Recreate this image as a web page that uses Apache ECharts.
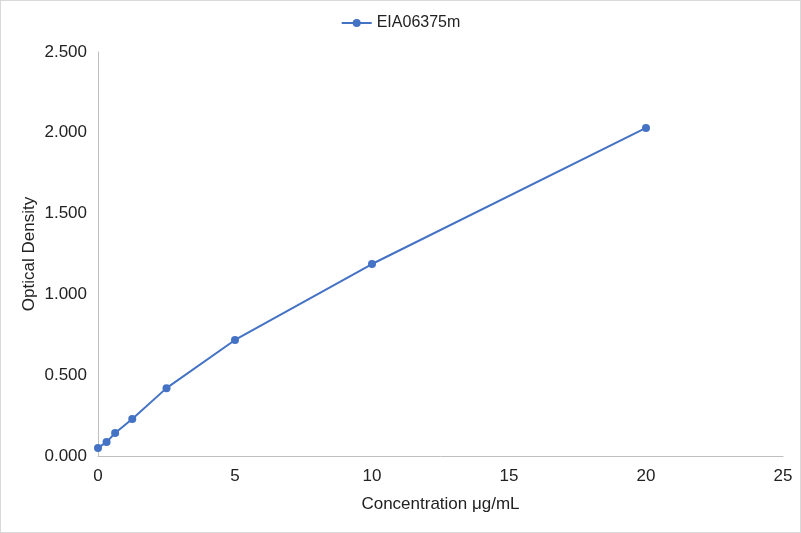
<!DOCTYPE html>
<html>
<head>
<meta charset="utf-8">
<script src="https://cdn.jsdelivr.net/npm/echarts@6/dist/echarts.min.js"></script>
<style>
  html, body { margin: 0; padding: 0; background: #fff; }
  #chart { width: 801px; height: 533px; box-sizing: border-box; border: 1px solid #d9d9d9; }
</style>
</head>
<body>
<div id="chart"></div>
<script>
// 浓度 (x) 与 OD 值 (y)
const seriesName = 'EIA06375m';
const concentration = [0, 0.3125, 0.625, 1.25, 2.5, 5, 10, 20];
const opticalDensity = [0.05, 0.086, 0.142, 0.229, 0.42, 0.718, 1.188, 2.03];

const points = concentration.map((c, i) => [c, opticalDensity[i]]);

const myChart = echarts.init(document.getElementById('chart'));
const fontFamily = 'Liberation Sans, Arial, sans-serif';
const labelFont = { color: '#222', fontSize: 17, fontFamily: fontFamily };
const option = {
    animation: false,
    legend: {
        top: 9,
        left: 'center',
        itemWidth: 30,
        itemHeight: 10,
        itemGap: 10,
        textStyle: { color: '#222', fontSize: 16, fontFamily: fontFamily },
        data: [seriesName]
    },
    grid: { left: 97, right: 17, top: 51, bottom: 76, containLabel: false },
    xAxis: {
        type: 'value',
        min: 0,
        max: 25,
        interval: 5,
        name: 'Concentration μg/mL',
        nameLocation: 'middle',
        nameGap: 40,
        nameMoveOverlap: false,
        nameTextStyle: labelFont,
        axisLine: { show: true, lineStyle: { color: '#bfbfbf', width: 1 } },
        axisTick: { show: false },
        splitLine: { show: false },
        axisLabel: Object.assign({ margin: 12 }, labelFont)
    },
    yAxis: {
        type: 'value',
        min: 0,
        max: 2.5,
        interval: 0.5,
        name: 'Optical Density',
        nameLocation: 'middle',
        nameGap: 60,
        nameMoveOverlap: false,
        nameTextStyle: labelFont,
        axisLine: { show: true, lineStyle: { color: '#bfbfbf', width: 1 } },
        axisTick: { show: false },
        splitLine: { show: false },
        axisLabel: Object.assign({ margin: 11, formatter: v => v.toFixed(3) }, labelFont)
    },
    series: [
        {
            name: seriesName,
            type: 'line',
            data: points,
            symbol: 'circle',
            symbolSize: 8,
            lineStyle: { color: '#4472c4', width: 2 },
            itemStyle: { color: '#4472c4' }
        }
    ]
};
myChart.setOption(option);
</script>
</body>
</html>
